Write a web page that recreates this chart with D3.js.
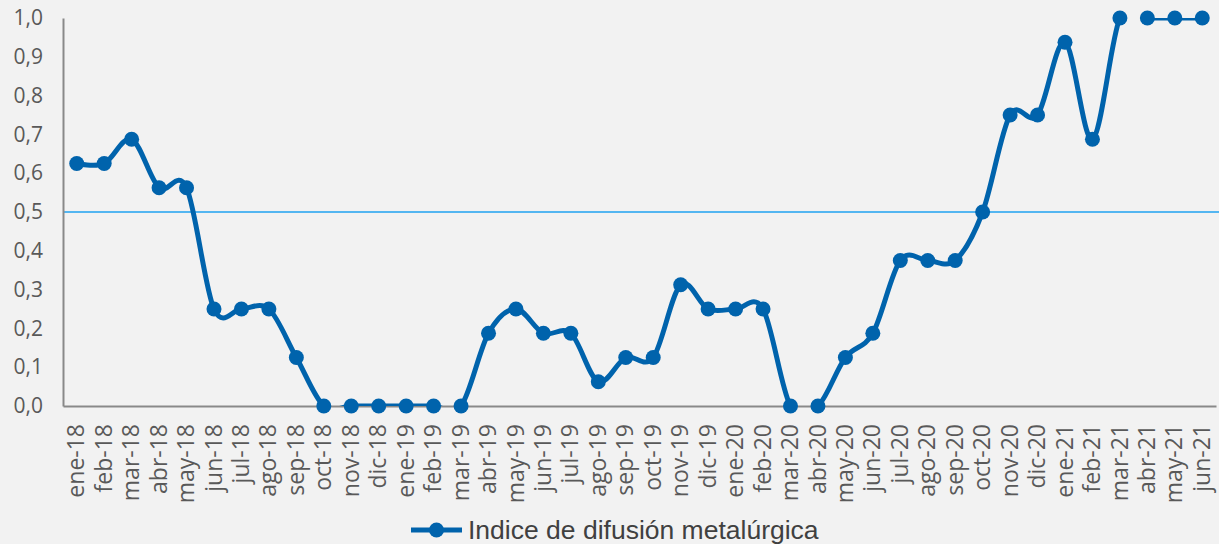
<!DOCTYPE html>
<html><head><meta charset="utf-8">
<script src="https://cdn.jsdelivr.net/npm/d3@7"></script>
<style>html,body{margin:0;padding:0;background:#f2f2f2;}svg{display:block;}</style>
</head><body>
<script>
const categories = ["ene-18","feb-18","mar-18","abr-18","may-18","jun-18","jul-18","ago-18","sep-18","oct-18","nov-18","dic-18",
"ene-19","feb-19","mar-19","abr-19","may-19","jun-19","jul-19","ago-19","sep-19","oct-19","nov-19","dic-19",
"ene-20","feb-20","mar-20","abr-20","may-20","jun-20","jul-20","ago-20","sep-20","oct-20","nov-20","dic-20",
"ene-21","feb-21","mar-21","abr-21","may-21","jun-21"];
const values = [0.625,0.625,0.6875,0.5625,0.5625,0.25,0.25,0.25,0.125,0,0,0,
0,0,0,0.1875,0.25,0.1875,0.1875,0.0625,0.125,0.125,0.3125,0.25,
0.25,0.25,0,0,0.125,0.1875,0.375,0.375,0.375,0.5,0.75,0.75,
0.9375,0.6875,1,1,1,1];
const yTicks = [0,0.1,0.2,0.3,0.4,0.5,0.6,0.7,0.8,0.9,1.0];
const threshold = 0.5;
const seriesName = "Indice de difusión metalúrgica";

const W = 1219, H = 544;
const mLeft = 63, mRight = 1216, mTop = 18, mBottom = 406;
const color = "#0063ac";
const svg = d3.select("body").append("svg").attr("width", W).attr("height", H);
svg.append("rect").attr("width", W).attr("height", H).attr("fill", "#f2f2f2");

const x = d3.scaleBand().domain(categories).range([mLeft, mRight]);
const y = d3.scaleLinear().domain([0, 1]).range([mBottom, mTop]);
const fmt = d => d.toFixed(1).replace(".", ",");

svg.append("clipPath").attr("id", "plotclip").append("rect")
  .attr("x", mLeft).attr("y", mTop).attr("width", mRight - mLeft).attr("height", mBottom - mTop);

// threshold line
svg.append("line").attr("x1", mLeft).attr("x2", W).attr("y1", y(threshold)).attr("y2", y(threshold))
  .attr("stroke", "#1fa2f0").attr("stroke-width", 1.6);

// y axis
const yAxis = svg.append("g").attr("transform", `translate(${mLeft},0)`)
  .call(d3.axisLeft(y).tickValues(yTicks).tickFormat(fmt).tickSize(0).tickPadding(20));
yAxis.select(".domain").attr("stroke", "#898989").attr("stroke-width", 2);
yAxis.selectAll("text").attr("fill", "#595959").style("font-family", "'Open Sans', sans-serif").style("font-size", "21px");

// x axis
const xAxis = svg.append("g").attr("transform", `translate(0,${mBottom})`)
  .call(d3.axisBottom(x).tickSize(0).tickPadding(8));
xAxis.select(".domain").attr("stroke", "#898989").attr("stroke-width", 2);
xAxis.selectAll("text")
  .attr("fill", "#595959").style("font-family", "'Open Sans', sans-serif").style("font-size", "23px")
  .attr("transform", "rotate(-90)")
  .attr("text-anchor", "end").attr("dy", "0.33em").attr("x", -18).attr("y", 0);

const pts = categories.map((c, i) => ({c, v: values[i], i}));
const line = d3.line().x(d => x(d.c) + x.bandwidth() / 2).y(d => y(d.v)).curve(d3.curveCardinal.tension(0));

svg.append("path").datum(pts).attr("d", line).attr("clip-path", "url(#plotclip)")
  .attr("fill", "none").attr("stroke", color).attr("stroke-width", 5).attr("stroke-linejoin", "round");

svg.append("g").selectAll("circle").data(pts).join("circle")
  .attr("cx", d => x(d.c) + x.bandwidth() / 2).attr("cy", d => y(d.v)).attr("r", 7.5).attr("fill", color);

// legend
const lg = svg.append("g").attr("transform", "translate(411,530)");
lg.append("line").attr("x1", 0).attr("x2", 51).attr("stroke", color).attr("stroke-width", 5);
lg.append("circle").attr("cx", 25.5).attr("r", 7.5).attr("fill", color);
lg.append("text").attr("x", 57).attr("dy", "0.35em").text(seriesName)
  .attr("fill", "#404040").style("font-family", "'Liberation Sans', Arial, sans-serif").style("font-size", "26.5px");
</script>
</body></html>
